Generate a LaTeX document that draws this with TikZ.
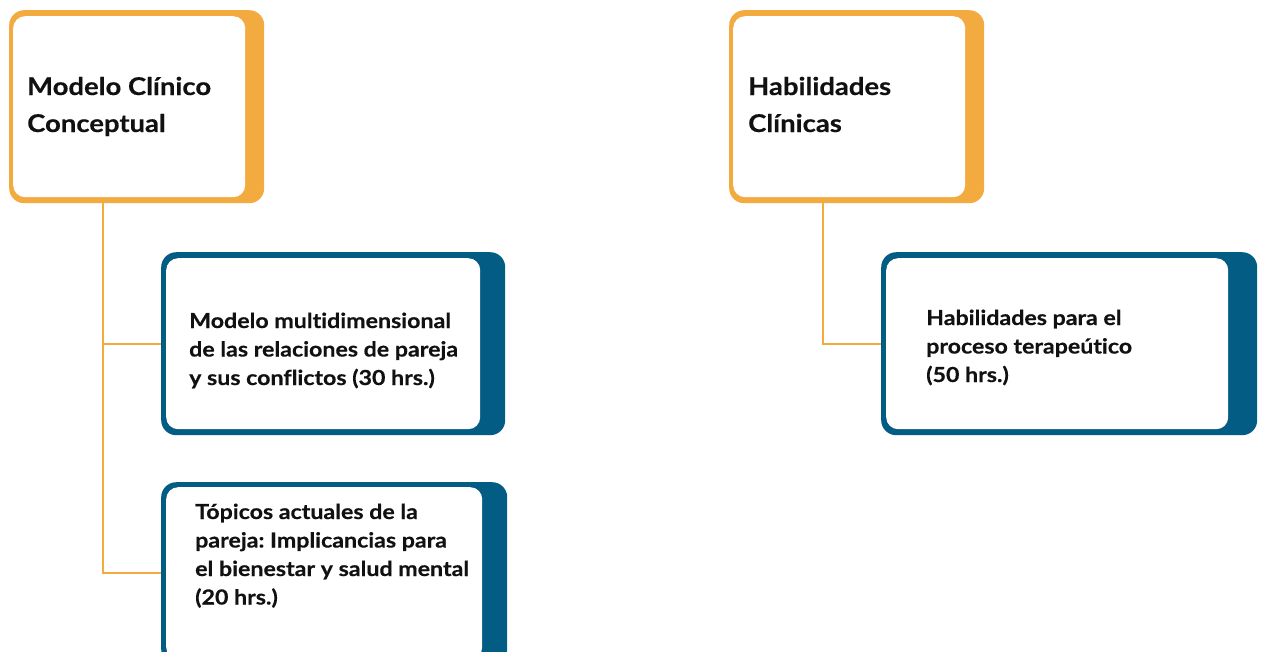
\documentclass[tikz,border=0pt]{standalone}
\usepackage{fontspec}
\setmainfont{Lato}
\newfontfamily\boxfont[FakeStretch=1.12,FakeBold=0.4,Ligatures=NoCommon]{Lato}
\definecolor{orangeC}{HTML}{F3AA3F}
\definecolor{blueC}{HTML}{025C83}
\definecolor{txtC}{HTML}{111111}
\frenchspacing
\begin{document}
\begin{tikzpicture}[x=1pt,y=-1pt,
  outerO/.style={fill=orangeC, draw=none, rounded corners=15pt, inner sep=0pt, anchor=north west},
  outerB/.style={fill=blueC, draw=none, rounded corners=15pt, inner sep=0pt, anchor=north west},
  innerW/.style={fill=white, draw=none, rounded corners=12pt, inner sep=0pt, anchor=north west},
  conn/.style={draw=orangeC, line width=2pt},
  bigtxt/.style={inner sep=0pt, anchor=base west, text=txtC, font=\boxfont\bfseries\frenchspacing\fontsize{24.5}{37}\selectfont},
  smalltxt/.style={inner sep=0pt, anchor=base west, text=txtC, font=\boxfont\bfseries\frenchspacing\fontsize{20.7}{28.5}\selectfont}
]
\useasboundingbox (0,0) rectangle (1264,651);
% outer frames
\node[outerO, minimum width=255pt, minimum height=193pt] (mcc) at (9,10) {};
\node[outerB, minimum width=344pt, minimum height=183pt] (mmr) at (161,252) {};
\node[outerB, minimum width=346pt, minimum height=182pt] (tap) at (161,482) {};
\node[outerO, minimum width=255pt, minimum height=193pt] (hc) at (729,10) {};
\node[outerB, minimum width=376pt, minimum height=183pt] (hpt) at (881,252) {};
% connectors
\coordinate (j1) at ([xshift=94pt]mcc.south west);
\coordinate (j2) at ([xshift=94pt]hc.south west);
\draw[conn] (j1) |- (mmr.west);
\draw[conn] (j1) |- (tap.west);
\draw[conn] (j2) |- (hpt.west);
% inner white panels
\node[innerW, minimum width=232pt, minimum height=181pt] (mccin) at (13,16) {};
\node[innerW, minimum width=314pt, minimum height=171pt] (mmrin) at (166,258) {};
\node[innerW, minimum width=316pt, minimum height=172pt] (tapin) at (166,487) {};
\node[innerW, minimum width=232pt, minimum height=181pt] (hcin) at (733,16) {};
\node[innerW, minimum width=342pt, minimum height=171pt] (hptin) at (886,258) {};
% texts
\node[bigtxt] (t1) at (27,95) {\begin{tabular}[t]{@{}l@{}}Modelo Clínico\\Conceptual\end{tabular}};
\node[bigtxt] (t4) at (748,95) {\begin{tabular}[t]{@{}l@{}}Habilidades\\Clínicas\end{tabular}};
\node[smalltxt] (t2) at (189,328) {\begin{tabular}[t]{@{}l@{}}Modelo multidimensional\\de las relaciones de pareja\\y sus conflictos (30 hrs.)\end{tabular}};
\node[smalltxt] (t3) at (195,519) {\begin{tabular}[t]{@{}l@{}}Tópicos actuales de la\\pareja: Implicancias para\\el bienestar y salud mental\\(20 hrs.)\end{tabular}};
\node[smalltxt] (t5) at (926,325) {\begin{tabular}[t]{@{}l@{}}Habilidades para el\\proceso terapeútico\\(50 hrs.)\end{tabular}};
\end{tikzpicture}
\end{document}
